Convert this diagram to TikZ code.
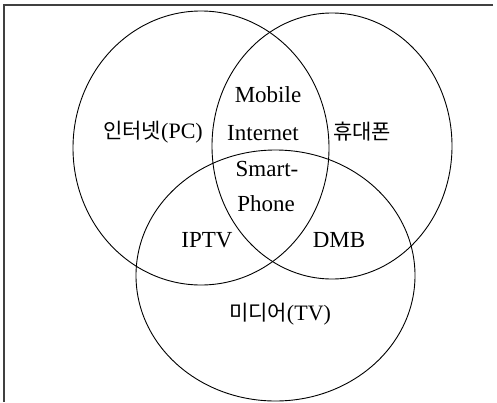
\documentclass[tikz,border=0pt]{standalone}
\usepackage{fontspec}
\setmainfont{Liberation Serif}
\newfontfamily\kr{Noto Sans CJK KR}
\begin{document}
\begin{tikzpicture}[x=1pt,y=-1pt,
  venn/.style={draw=black,line width=0.9pt},
  frameline/.style={draw=black!75,line width=1.2pt},
  lbl/.style={inner sep=0pt,font=\fontsize{23}{27}\selectfont},
  krl/.style={inner sep=0pt,font=\fontsize{22}{27}\selectfont}]
\useasboundingbox (0,0) rectangle (497,402);
\coordinate (tl) at (4,5);
\coordinate (tr) at (493,5);
\coordinate (bl) at (4,402);
\draw[frameline] (tr) -- (tl) -- (bl);
\draw[venn] (201,148) ellipse [x radius=128, y radius=137];
\draw[venn] (332,146) ellipse [x radius=120, y radius=133];
\draw[venn] (275.5,275.5) ellipse [x radius=139.5, y radius=125.5];
\node[lbl] (mob) at (268,95) {Mobile};
\node[lbl] (int) at (263,133) {Internet};
\node[lbl] (sma) at (267,169) {Smart-};
\node[lbl] (pho) at (266,204) {Phone};
\node[krl] (pc) at (153,132) {{\kr\fontsize{21}{27}\selectfont 인터넷}(PC)};
\node[krl] (hp) at (362,132) {\kr\fontsize{21}{27}\selectfont 휴대폰};
\node[lbl] (iptv) at (207,240) {IPTV};
\node[lbl] (dmb) at (339,240) {DMB};
\node[krl] (tv) at (280,314) {{\kr\fontsize{21}{27}\selectfont 미디어}(TV)};
\end{tikzpicture}
\end{document}
